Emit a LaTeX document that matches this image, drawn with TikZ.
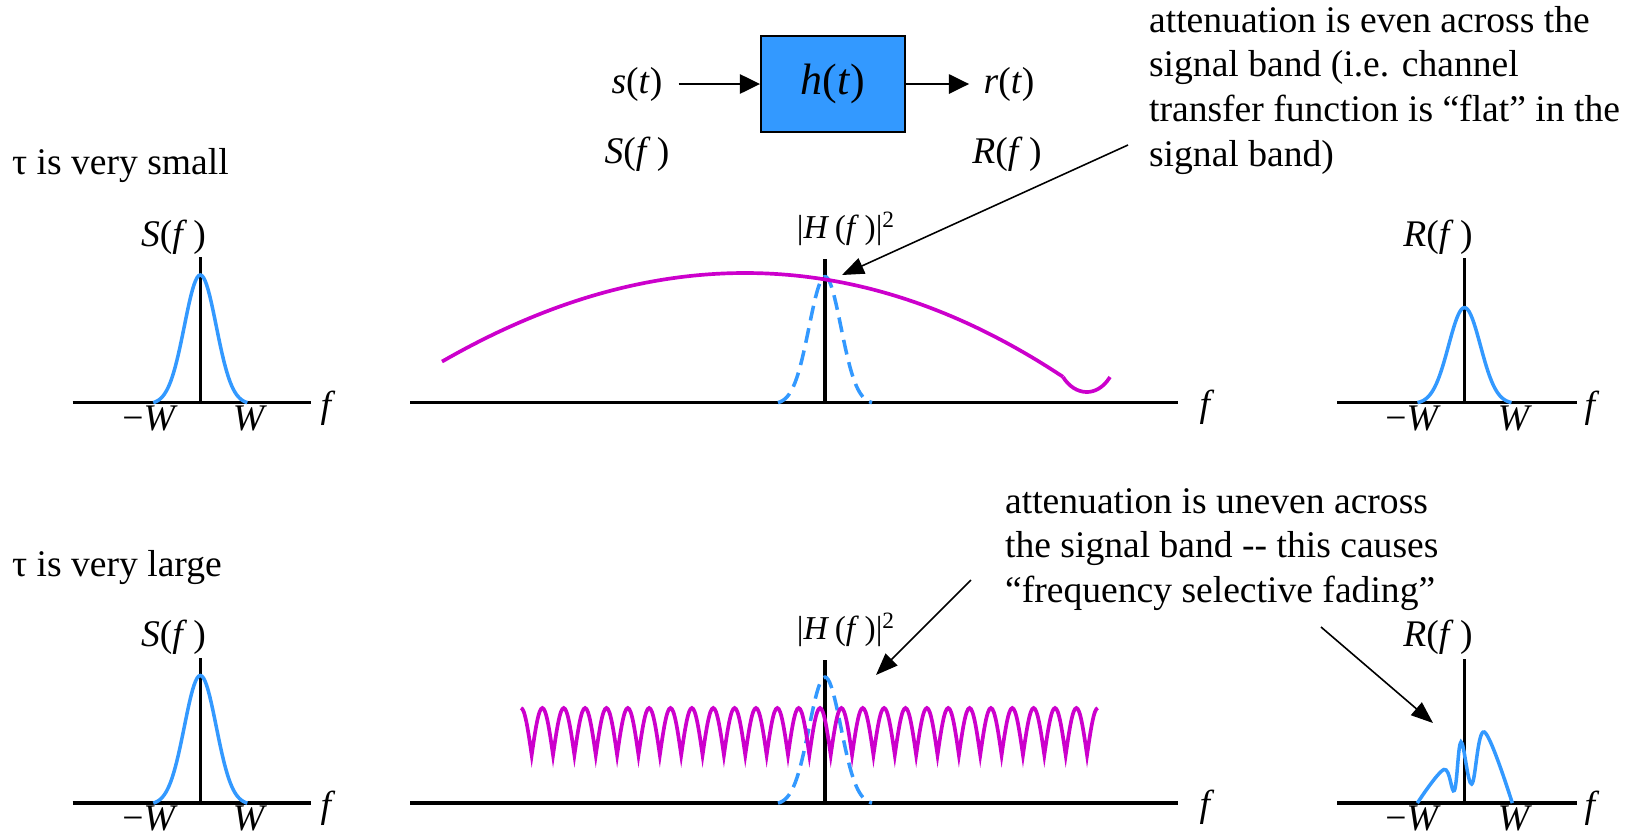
\documentclass[tikz,border=0pt]{standalone}
\usepackage{fontspec}
\setmainfont{LiberationSerif}[Extension=.ttf, UprightFont=*-Regular, ItalicFont=*-Italic, BoldFont=*-Bold, BoldItalicFont=*-BoldItalic]
\usetikzlibrary{arrows.meta, positioning}

\definecolor{specblue}{RGB}{51,153,255}
\definecolor{chanmag}{RGB}{204,0,204}

% truncated bell: 1 at 0, 0 at +-47
\newcommand{\bellf}[1]{((exp(-((#1)/22.5)*((#1)/22.5))-0.0127)/0.9873)}

\tikzset{
  lbl/.style={font=\fontsize{21.4}{25.4}\selectfont, inner sep=1pt},
  lblsmall/.style={font=\fontsize{19}{22}\selectfont, inner sep=1pt},
  axisline/.style={line width=1.9pt},
  spec/.style={specblue, line width=2pt},
  specdash/.style={spec, dash pattern=on 8.5pt off 4.5pt},
  chan/.style={chanmag, line width=2.1pt},
  flow/.style={line width=1.1pt, -{Triangle[length=11.5pt, width=11pt]}},
  pointer/.style={line width=0.9pt, -{Triangle[length=12.5pt, width=9.5pt]}},
  chanbox/.style={draw, line width=1.1pt, fill=specblue, minimum width=2.88cm, minimum height=1.93cm},
}

\begin{document}
\begin{tikzpicture}[x=0.02cm, y=-0.02cm]
  \useasboundingbox (0,0) rectangle (1627,836);

  % channel block
  \node[chanbox] (chan) at (833,84) {\fontsize{25}{28}\selectfont\textit{h}(\textit{t})};
  \node[lbl] (st) at (637,84) {\textit{s}(\textit{t})};
  \node[lbl] (rt) at (1009,84) {\textit{r}(\textit{t})};
  \node[lbl] (sfin) at (637,154) {\textit{S}(\textit{f}\,)};
  \node[lbl] (rfout) at (1007,154) {\textit{R}(\textit{f}\,)};
  \draw[flow, shorten <=8pt] (st) -- (chan);
  \draw[flow, shorten >=7pt] (chan) -- (rt);

  \node[lbl, anchor=west] (tsmall) at (10,166) {τ is very small};
  \node[lbl, anchor=west] (tlarge) at (10,568) {τ is very large};

  % both rows: axes, input spectrum, labels
  \foreach \r/\dy in {a/0, b/400.5} {
    \begin{scope}[shift={(0,\dy)}]
      \draw[axisline] (72.6,402.6) -- (311.3,402.6);
      \draw[axisline] (200.3,402.6) -- (200.3,257);
      \draw[spec] plot[domain=-47:47, samples=61] ({200.3+\x}, {402.6-127.6*\bellf{\x}});
      \node[lbl] (sf\r) at (173.5,237) {\textit{S}(\textit{f}\,)};
      \node[lbl, inner sep=0pt] (nwl\r) at (150,418) {−\textit{W}};
      \node[lbl, inner sep=0pt] (pwl\r) at (250,418) {\textit{W}};
      \node[lbl] (fl\r) at (328,408) {\textit{f}};

      \draw[axisline] (410,402.6) -- (1177.7,402.6);
      \draw[axisline] (825,402.6) -- (825,259);
      \draw[specdash] plot[domain=-47:47, samples=61] ({825+\x}, {402.6-126*\bellf{\x}});
      \node[lblsmall] (hh\r) at (846,229) {|\textit{H}\,(\textit{f}\,)|\textsuperscript{2}};
      \node[lbl] (fm\r) at (1207,407) {\textit{f}};

      \draw[axisline] (1337,402.6) -- (1577,402.6);
      \draw[axisline] (1464.5,402.6) -- (1464.5,258);
      \node[lbl] (rf\r) at (1438,237) {\textit{R}(\textit{f}\,)};
      \node[lbl, inner sep=0pt] (nwr\r) at (1413,418) {−\textit{W}};
      \node[lbl, inner sep=0pt] (pwr\r) at (1515,418) {\textit{W}};
      \node[lbl] (fr\r) at (1592,408) {\textit{f}};
    \end{scope}
  }

  % tau small: flat channel
  \draw[chan] plot[domain=442:1063, samples=80]
    (\x, {273+((\x-745)/100)*((\x-745)/100)*(9.95+0.1*(\x-745)/100)});
  \draw[chan] (1063,377) .. controls (1075,396) and (1097,398) .. (1110,377);
  \draw[spec] plot[domain=-47:47, samples=61] ({1464.5+\x}, {402.6-95*\bellf{\x}});

  % tau large: selective channel
  \draw[chan] (521,708) foreach \k in {0,...,26} {
    cos ({531.68+21.36*\k},755) sin ({542.36+21.36*\k},708) };
  \draw[spec] plot[smooth, tension=0.6] coordinates {(1417.3,803.1) (1444,769.5)
    (1454.3,790.5) (1461,742) (1471.7,784) (1484.3,732) (1512.3,803.1)};

  % notes
  \node[lbl, anchor=north west, align=left] (flatnote) at (1147,4)
    {attenuation is even across the\\signal band (i.e. channel\\transfer function is “flat” in the\\signal band)};
  \node[lbl, anchor=north west, align=left] (fadenote) at (1003,486)
    {attenuation is uneven across\\the signal band -{}- this causes\\“frequency selective fading”};
  \coordinate (flattail) at (1128,145);
  \coordinate (flattip) at (842,275);
  \coordinate (fadetail) at (971,580);
  \coordinate (hhtip) at (876,675);
  \coordinate (rtail) at (1321,627);
  \coordinate (rtip) at (1433,723);
  \draw[pointer] (flattail) -- (flattip);
  \draw[pointer] (fadetail) -- (hhtip);
  \draw[pointer] (rtail) -- (rtip);
\end{tikzpicture}
\end{document}
